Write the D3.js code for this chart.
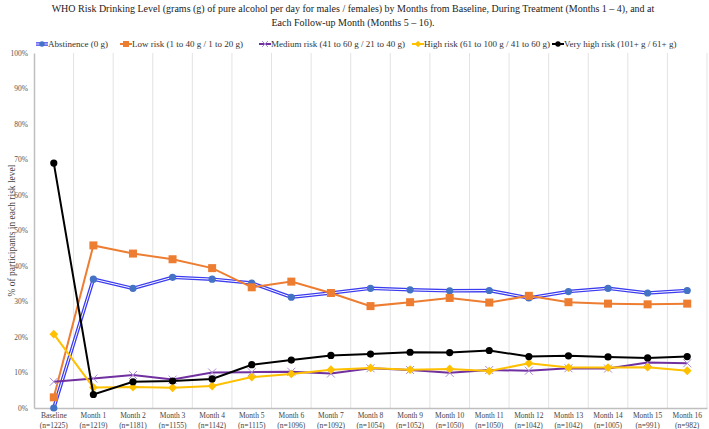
<!DOCTYPE html>
<html><head><meta charset="utf-8">
<script src="https://cdn.jsdelivr.net/npm/d3@7"></script>
<style>body{margin:0;background:#fff}svg{display:block}svg text{font-family:"Liberation Serif","Times New Roman",serif}</style>
</head><body><svg id="c" width="709" height="429"></svg>
<script>
const categories = ["Baseline","Month 1","Month 2","Month 3","Month 4","Month 5","Month 6","Month 7","Month 8","Month 9","Month 10","Month 11","Month 12","Month 13","Month 14","Month 15","Month 16"];
const sampleSizes = ["(n=1225)","(n=1219)","(n=1181)","(n=1155)","(n=1142)","(n=1115)","(n=1096)","(n=1092)","(n=1054)","(n=1052)","(n=1050)","(n=1050)","(n=1042)","(n=1042)","(n=1005)","(n=991)","(n=982)"];
const abstinence = [0,36.3,33.7,36.8,36.3,35.2,31.2,32.4,33.7,33.3,33.0,33.1,31.0,32.8,33.7,32.4,33.1];
const lowRisk = [3.0,45.8,43.5,41.9,39.4,34.0,35.6,32.4,28.7,29.8,31.0,29.7,31.6,29.8,29.4,29.2,29.4];
const mediumRisk = [7.4,8.3,9.3,8.0,10.0,10.1,10.2,9.7,11.2,10.7,9.9,10.7,10.5,11.2,11.1,12.8,12.6];
const highRisk = [20.8,5.8,5.9,5.7,6.2,8.7,9.6,10.8,11.3,10.8,11.0,10.4,12.6,11.4,11.4,11.5,10.5];
const veryHighRisk = [69.0,3.8,7.4,7.6,8.2,12.2,13.5,14.8,15.2,15.7,15.6,16.2,14.5,14.7,14.4,14.1,14.5];
const yTicks = [0,10,20,30,40,50,60,70,80,90,100];
const seriesNames = ["Abstinence (0 g)","Low risk (1 to 40 g / 1 to 20 g)","Medium risk (41 to 60 g / 21 to 40 g)","High risk (61 to 100 g / 41 to 60 g)","Very high risk (101+ g / 61+ g)"];

const series = [
  {name:seriesNames[0], values:abstinence, line:"#3b3bf0", marker:"#4472C4", shape:"circle", dbl:true},
  {name:seriesNames[1], values:lowRisk, line:"#ED7D31", marker:"#ED7D31", shape:"square"},
  {name:seriesNames[2], values:mediumRisk, line:"#7030A0", marker:"#A98BD8", shape:"x"},
  {name:seriesNames[3], values:highRisk, line:"#FFC000", marker:"#FFC000", shape:"diamond"},
  {name:seriesNames[4], values:veryHighRisk, line:"#000000", marker:"#000000", shape:"circle"}
];

const FF = "Liberation Serif, Times New Roman, serif";
const svg = d3.select("#c");
const m = {l:34, r:2, t:53, b:21};
const W = 709, H = 429;
const x = d3.scaleBand().domain(categories).range([m.l, W - m.r]);
const y = d3.scaleLinear().domain([0,100]).range([H - m.b, m.t]);

// title
const title = svg.append("text").attr("text-anchor","middle").attr("font-size",10).attr("fill","#222").attr("font-family",FF);
title.append("tspan").attr("x",353).attr("y",12).text("WHO Risk Drinking Level (grams (g) of pure alcohol per day for males / females) by Months from Baseline, During Treatment (Months 1 – 4), and at");
title.append("tspan").attr("x",353).attr("y",26).text("Each Follow-up Month (Months 5 – 16).");

// vertical gridlines
svg.append("g").selectAll("line").data(categories.slice(1).concat(["__end"])).join("line")
  .attr("x1",(d,i)=> m.l + (i+1)*x.bandwidth()).attr("x2",(d,i)=> m.l + (i+1)*x.bandwidth())
  .attr("y1",y(100)).attr("y2",y(0)).attr("stroke","#e3e3e3").attr("stroke-width",1);

// y axis
const ya = svg.append("g").attr("transform",`translate(${m.l},0)`)
  .call(d3.axisLeft(y).tickValues(yTicks).tickFormat(d=>d+"%").tickSize(0).tickPadding(6));
ya.attr("font-family",FF);
ya.select(".domain").attr("stroke","#bfbfbf").attr("stroke-width",1.5);
ya.selectAll("text").attr("font-family",FF).attr("font-size",7.5).attr("fill","#555");

// x axis
const xa = svg.append("g").attr("transform",`translate(0,${y(0)})`)
  .call(d3.axisBottom(x).tickSize(0).tickFormat(""));
xa.attr("font-family",FF);
xa.select(".domain").attr("stroke","#bfbfbf").attr("stroke-width",1.5);
xa.selectAll(".tick").each(function(d,i){
  const t = d3.select(this).append("text").attr("fill","#444").attr("font-size",7.5)
    .attr("font-family",FF).attr("text-anchor","middle");
  t.append("tspan").attr("x",0).attr("y",10).text(d);
  t.append("tspan").attr("x",0).attr("y",19.5).text(sampleSizes[i]);
});

// y axis title
svg.append("text").attr("transform",`translate(15,${(y(0)+y(100))/2}) rotate(-90)`)
  .attr("text-anchor","middle").attr("font-size",9.5).attr("fill","#444").attr("font-family",FF)
  .text("% of participants in each risk level");

const line = d3.line().x((d,i)=> x(categories[i]) + x.bandwidth()/2).y(d=>y(d));

function drawMarker(g, shape, cx, cy, color, s){
  if(shape==="circle") g.append("circle").attr("cx",cx).attr("cy",cy).attr("r",s*0.45).attr("fill",color);
  else if(shape==="square") g.append("rect").attr("x",cx-s/2).attr("y",cy-s/2).attr("width",s).attr("height",s).attr("fill",color);
  else if(shape==="diamond") g.append("path").attr("d",`M${cx},${cy-s*0.55}L${cx+s*0.55},${cy}L${cx},${cy+s*0.55}L${cx-s*0.55},${cy}Z`).attr("fill",color);
  else if(shape==="x") g.append("path").attr("d",`M${cx-s/2},${cy-s/2}L${cx+s/2},${cy+s/2}M${cx-s/2},${cy+s/2}L${cx+s/2},${cy-s/2}`).attr("stroke",color).attr("stroke-width",1);
}

const plot = svg.append("g");
series.forEach(s=>{
  const g = plot.append("g");
  if(s.dbl){
    g.append("path").attr("d",line(s.values)).attr("fill","none").attr("stroke",s.line).attr("stroke-width",3.5);
    g.append("path").attr("d",line(s.values)).attr("fill","none").attr("stroke","#fff").attr("stroke-width",1);
  } else {
    g.append("path").attr("d",line(s.values)).attr("fill","none").attr("stroke",s.line).attr("stroke-width",2);
  }
  s.values.forEach((v,i)=> drawMarker(g, s.shape, x(categories[i]) + x.bandwidth()/2, y(v), s.marker, 8));
});

// legend
const legX = [38,122,261,414,554];
const lg = svg.append("g");
series.forEach((s,i)=>{
  const cx = legX[i] + 4, cy = 44;
  if(s.dbl){
    lg.append("line").attr("x1",cx-6).attr("x2",cx+6).attr("y1",cy).attr("y2",cy).attr("stroke",s.line).attr("stroke-width",3.5);
    lg.append("line").attr("x1",cx-6).attr("x2",cx+6).attr("y1",cy).attr("y2",cy).attr("stroke","#fff").attr("stroke-width",1);
  } else {
    lg.append("line").attr("x1",cx-6).attr("x2",cx+6).attr("y1",cy).attr("y2",cy).attr("stroke",s.line).attr("stroke-width",2);
  }
  drawMarker(lg, s.shape, cx, cy, s.marker, 6);
  lg.append("text").attr("x",legX[i]+10).attr("y",cy+3).attr("font-size",9).attr("fill","#333").attr("font-family",FF).text(s.name);
});
</script></body></html>
